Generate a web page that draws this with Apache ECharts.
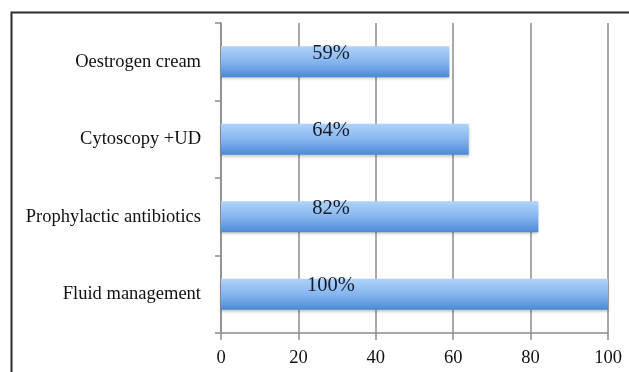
<!DOCTYPE html>
<html>
<head>
<meta charset="utf-8">
<script src="https://cdn.jsdelivr.net/npm/echarts@6/dist/echarts.min.js"></script>
<style>
  html, body { margin: 0; padding: 0; background: #fff; }
  #chart { width: 629px; height: 372px; }
</style>
</head>
<body>
<div id="chart"></div>
<script>
// Measures, listed bottom to top as drawn on the category axis
const categories = ['Fluid management', 'Prophylactic antibiotics', 'Cytoscopy +UD', 'Oestrogen cream'];
const values = [100, 82, 64, 59];
const xTicks = [0, 20, 40, 60, 80, 100];

const FONT = '"Liberation Serif", "DejaVu Serif", serif';
const GRID_GREY = '#8c8c8c';

const chart = echarts.init(document.getElementById('chart'), null, { renderer: 'canvas' });

chart.setOption({
  animation: false,
  backgroundColor: '#ffffff',
  graphic: [{
    type: 'rect',
    left: 9, top: 10,
    shape: { width: 700, height: 500 },
    style: { fill: 'none', stroke: '#2b2b2b', lineWidth: 2 },
    silent: true
  }],
  grid: { left: 221, right: 21, top: 23, bottom: 39, containLabel: false },
  xAxis: {
    type: 'value',
    min: xTicks[0],
    max: xTicks[xTicks.length - 1],
    interval: xTicks[1] - xTicks[0],
    axisLine: { show: true, lineStyle: { color: GRID_GREY, width: 1.5 } },
    axisTick: { show: true, length: 7, lineStyle: { color: GRID_GREY, width: 1.5 } },
    axisLabel: { color: '#111', fontFamily: FONT, fontSize: 18.5, margin: 16 },
    splitLine: { show: true, lineStyle: { color: GRID_GREY, width: 1.5 } }
  },
  yAxis: {
    type: 'category',
    data: categories,
    axisLine: { show: true, lineStyle: { color: GRID_GREY, width: 1.5 } },
    axisTick: { show: true, length: 6, lineStyle: { color: GRID_GREY, width: 1.5 } },
    axisLabel: { color: '#111', fontFamily: FONT, fontSize: 18.5, margin: 20 },
    splitLine: { show: false }
  },
  series: [{
    type: 'bar',
    data: values,
    barWidth: '40%',
    itemStyle: {
      color: new echarts.graphic.LinearGradient(0, 0, 0, 1, [
        { offset: 0, color: '#afd2f9' },
        { offset: 0.5, color: '#86b6ef' },
        { offset: 1, color: '#4b89d5' }
      ]),
      shadowColor: 'rgba(0,0,0,0.25)',
      shadowBlur: 3,
      shadowOffsetY: 2
    },
    label: {
      show: true,
      position: [110, 7],
      align: 'center',
      verticalAlign: 'middle',
      formatter: p => p.value + '%',
      color: '#141b2b',
      fontFamily: FONT,
      fontSize: 20.5
    }
  }]
});
</script>
</body>
</html>
